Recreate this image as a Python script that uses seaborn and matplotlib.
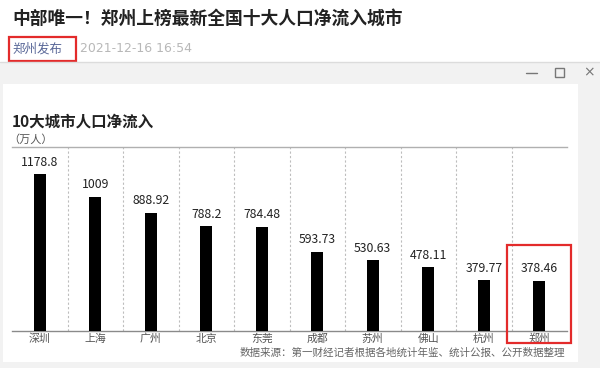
import matplotlib
matplotlib.use("Agg")
import matplotlib.pyplot as plt
from matplotlib.patches import Rectangle
from matplotlib.lines import Line2D
import seaborn as sns
import pandas as pd

# ---------------------------------------------------------------
# Data
# ---------------------------------------------------------------
CITIES = ["深圳", "上海", "广州", "北京", "东莞", "成都", "苏州", "佛山", "杭州", "郑州"]
NET_INFLOW = [1178.8, 1009, 888.92, 788.2, 784.48, 593.73, 530.63, 478.11, 379.77, 378.46]
VALUE_LABELS = ["1178.8", "1009", "888.92", "788.2", "784.48",
                "593.73", "530.63", "478.11", "379.77", "378.46"]

ARTICLE_TITLE = "中部唯一！郑州上榜最新全国十大人口净流入城市"
AUTHOR = "郑州发布"
DATE = "2021-12-16 16:54"
CHART_TITLE = "10大城市人口净流入"
UNIT = "（万人）"
SOURCE = "数据来源：第一财经记者根据各地统计年鉴、统计公报、公开数据整理"

W, H = 600, 368

sns.set_style("white")
plt.rcParams["font.family"] = ["Noto Sans CJK SC", "DejaVu Sans"]


def fx(px):
    return px / W


def fy(py):
    return 1 - py / H


fig = plt.figure(figsize=(W / 100, H / 100), dpi=100)
fig.patch.set_facecolor("white")

# window panel (grey) and white inner area
fig.add_artist(Rectangle((0, 0), 1, fy(62), transform=fig.transFigure,
                         facecolor="#f2f2f2", edgecolor="none", zorder=0))
fig.add_artist(Line2D([0, 1], [fy(61.5), fy(61.5)], transform=fig.transFigure,
                      color="#dcdcdc", lw=1))
fig.add_artist(Rectangle((fx(3), fy(362)), fx(575), 278 / H, transform=fig.transFigure,
                         facecolor="white", edgecolor="none", zorder=0))

# article header
fig.text(fx(12), fy(19), ARTICLE_TITLE, fontsize=12.8, fontweight="bold",
         color="#222222", va="center", ha="left")
fig.text(fx(12), fy(49), AUTHOR, fontsize=9, color="#5a6898", va="center", ha="left")
fig.text(fx(80), fy(49), DATE, fontsize=9, color="#b8b8b8", va="center", ha="left",
         family="DejaVu Sans")
fig.add_artist(Rectangle((fx(8.5), fy(61)), fx(67), 24 / H, transform=fig.transFigure,
                         facecolor="none", edgecolor="#e32b2b", lw=1.6))

# window controls
fig.add_artist(Line2D([fx(526), fx(537)], [fy(72.5), fy(72.5)], transform=fig.transFigure,
                      color="#777777", lw=1))
fig.add_artist(Rectangle((fx(555), fy(77)), fx(9), 9 / H, transform=fig.transFigure,
                         facecolor="none", edgecolor="#777777", lw=1))
fig.text(fx(589), fy(72), "×", fontsize=10, color="#777777", va="center", ha="center",
         family="DejaVu Sans")

# chart title
fig.text(fx(12), fy(121), CHART_TITLE, fontsize=11.2, fontweight="bold",
         color="#222222", va="center", ha="left")
fig.text(fx(8), fy(140), UNIT, fontsize=8, color="#555555", va="center", ha="left")

# ---------------------------------------------------------------
# Bar chart
# ---------------------------------------------------------------
df = pd.DataFrame({"city": CITIES, "value": NET_INFLOW})

ax = fig.add_axes([fx(12), fy(331), fx(555), 184 / H])
sns.barplot(data=df, x="city", y="value", color="black", width=0.21,
            saturation=1, linewidth=0, ax=ax, zorder=3)
ax.set_xlim(-0.5, len(CITIES) - 0.5)
ax.set_ylim(0, 1383)
ax.set_xlabel("")
ax.set_ylabel("")
ax.set_yticks([])
ax.tick_params(axis="x", length=0, pad=2, labelsize=7.8, labelcolor="#555555")
ax.set_facecolor("none")

for side in ["left", "right"]:
    ax.spines[side].set_visible(False)
ax.spines["top"].set_color("#b0b0b0")
ax.spines["top"].set_linewidth(1)
ax.spines["bottom"].set_color("#8a8a8a")
ax.spines["bottom"].set_linewidth(1)

for i in range(len(CITIES) - 1):
    ax.axvline(i + 0.5, color="#bdbdbd", lw=0.8, ls=(0, (2, 2)), zorder=1)

for i, (v, lab) in enumerate(zip(NET_INFLOW, VALUE_LABELS)):
    ax.annotate(lab, (i, v), xytext=(0, 4), textcoords="offset points",
                ha="center", va="bottom", fontsize=8.8, color="#222222")

# source note
fig.text(fx(565), fy(353), SOURCE, fontsize=7.6, color="#666666",
         va="center", ha="right")

# red highlight box around Zhengzhou
fig.add_artist(Rectangle((fx(507), fy(343)), fx(64), 98 / H, transform=fig.transFigure,
                         facecolor="none", edgecolor="#e32b2b", lw=1.6, zorder=10))

fig.savefig("out.png", dpi=100)
